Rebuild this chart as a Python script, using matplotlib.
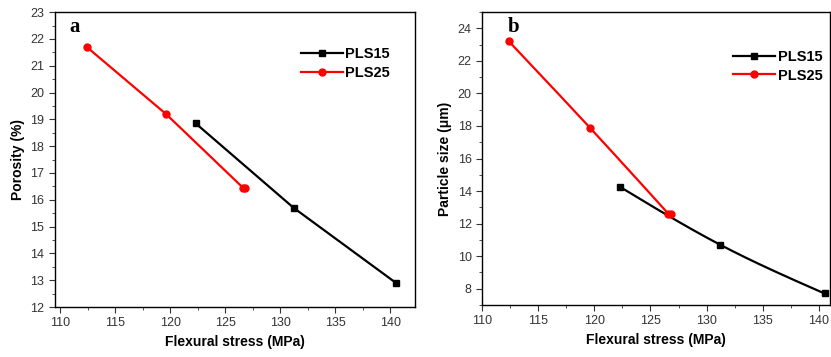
import numpy as np
import matplotlib.pyplot as plt
from matplotlib.ticker import MultipleLocator

plt.rcParams['font.family'] = ['Liberation Sans', 'DejaVu Sans']

# panel a: porosity vs flexural stress
stress_15 = [122.3, 131.2, 140.5]
poros_15 = [18.85, 15.7, 12.9]
stress_25 = [112.4, 119.6, 126.6, 126.8]
poros_25 = [21.7, 19.2, 16.45, 16.45]

# panel b: particle size vs flexural stress
size_15 = [14.25, 10.7, 7.7]
size_25 = [23.2, 17.9, 12.6, 12.6]


def natural_spline(x, y, n=200):
    '''natural cubic spline through the points, for a smooth connecting line'''
    x = np.asarray(x, float)
    y = np.asarray(y, float)
    k = len(x)
    h = np.diff(x)
    A = np.zeros((k, k))
    r = np.zeros(k)
    A[0, 0] = A[-1, -1] = 1
    for i in range(1, k - 1):
        A[i, i - 1] = h[i - 1]
        A[i, i] = 2 * (h[i - 1] + h[i])
        A[i, i + 1] = h[i]
        r[i] = 6 * ((y[i + 1] - y[i]) / h[i] - (y[i] - y[i - 1]) / h[i - 1])
    M = np.linalg.solve(A, r)
    xs = np.linspace(x[0], x[-1], n)
    idx = np.clip(np.searchsorted(x, xs) - 1, 0, k - 2)
    x0, x1 = x[idx], x[idx + 1]
    hh = x1 - x0
    a = (x1 - xs) / hh
    b = (xs - x0) / hh
    ys = (a * y[idx] + b * y[idx + 1]
          + ((a**3 - a) * M[idx] + (b**3 - b) * M[idx + 1]) * hh**2 / 6)
    return xs, ys


fig = plt.figure(figsize=(8.31, 3.57), dpi=100)
ax1 = fig.add_axes([0.066, 0.140, 0.433, 0.826])
ax2 = fig.add_axes([0.580, 0.146, 0.419, 0.820])

# panel a - straight lines
ax1.plot(stress_15, poros_15, color='black', lw=1.6, marker='s', ms=4.5, label='PLS15')
ax1.plot(stress_25, poros_25, color='red', lw=1.6, marker='o', ms=5, label='PLS25')
ax1.set_xlim(109.5, 142.2)
ax1.set_ylim(12, 23)
ax1.yaxis.set_major_locator(MultipleLocator(1))
ax1.yaxis.set_minor_locator(MultipleLocator(0.5))
ax1.set_ylabel('Porosity (%)', fontsize=10, fontweight='bold')
ax1.text(0.04, 0.95, 'a', transform=ax1.transAxes, fontsize=15, fontweight='bold',
         family='Liberation Serif', va='center')

# panel b - smoothed lines
xs, ys = natural_spline(stress_15, size_15)
ax2.plot(xs, ys, color='black', lw=1.6)
ax2.plot(stress_15, size_15, color='black', ls='none', marker='s', ms=4.5)
ax2.plot([], [], color='black', lw=1.6, marker='s', ms=4.5, label='PLS15')
xs, ys = natural_spline(stress_25[:3], size_25[:3])
ax2.plot(np.append(xs, stress_25[3]), np.append(ys, size_25[3]), color='red', lw=1.6)
ax2.plot(stress_25, size_25, color='red', ls='none', marker='o', ms=5)
ax2.plot([], [], color='red', lw=1.6, marker='o', ms=5, label='PLS25')
ax2.set_xlim(110, 141)
ax2.set_ylim(7, 25)
ax2.yaxis.set_major_locator(MultipleLocator(2))
ax2.yaxis.set_minor_locator(MultipleLocator(1))
ax2.set_ylabel('Particle size (\u03bcm)', fontsize=10, fontweight='bold')
ax2.text(0.075, 0.95, 'b', transform=ax2.transAxes, fontsize=15, fontweight='bold',
         family='Liberation Serif', va='center')

anchors = {ax1: (0.968, 0.925), ax2: (1.015, 0.915)}
for ax in (ax1, ax2):
    ax.xaxis.set_major_locator(MultipleLocator(5))
    ax.xaxis.set_minor_locator(MultipleLocator(2.5))
    ax.tick_params(which='both', direction='out', top=False, right=False,
                   labelsize=9, colors='#333333', labelcolor='#333333')
    ax.tick_params(which='major', length=4)
    ax.tick_params(which='minor', length=2.5)
    ax.set_xlabel('Flexural stress (MPa)', fontsize=10, fontweight='bold')
    for s in ax.spines.values():
        s.set_linewidth(1.0)
    ax.legend(loc='upper right', bbox_to_anchor=anchors[ax], frameon=False,
              handlelength=2.9, handletextpad=0.15, labelspacing=0.3,
              prop={'weight': 'bold', 'size': 10.5})

fig.savefig('out.png', dpi=100)
